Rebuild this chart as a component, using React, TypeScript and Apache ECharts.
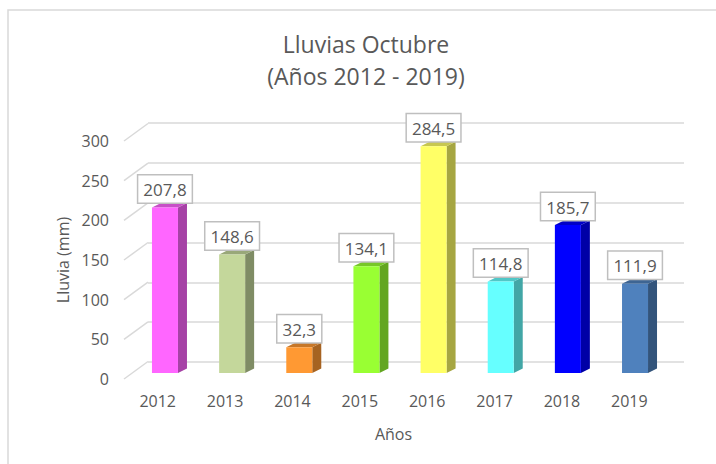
import React, { useEffect, useRef } from "react";
import * as echarts from "echarts";

const years = ["2012", "2013", "2014", "2015", "2016", "2017", "2018", "2019"];
const rainfall = [207.8, 148.6, 32.3, 134.1, 284.5, 114.8, 185.7, 111.9];
const frontColors = ["#FF66FF", "#C4D79B", "#FF9933", "#99FF33", "#FFFF66", "#66FFFF", "#0000FF", "#4F81BD"];
const yTicks = [0, 50, 100, 150, 200, 250, 300];

const FONT = "'Open Sans', sans-serif";
const TEXT = "#595959";
const GRID = "#d9d9d9";

function shade(hex: string, f: number): string {
  const n = parseInt(hex.slice(1), 16);
  const r = Math.round(((n >> 16) & 255) * f);
  const g = Math.round(((n >> 8) & 255) * f);
  const b = Math.round((n & 255) * f);
  return "rgb(" + r + "," + g + "," + b + ")";
}

export default function App() {
  const ref = useRef<HTMLDivElement>(null);
  useEffect(() => {
    if (!ref.current) return;
    const chart = echarts.init(ref.current, null, { renderer: "svg" });
    const BAR_W = 26;
    const DX = 9;
    const DY = -4.5;
    chart.setOption({
      animation: false,
      backgroundColor: "#ffffff",
      title: {
        text: "Lluvias Octubre\n(Años 2012 - 2019)",
        left: 366,
        top: 28,
        textAlign: "center",
        padding: 0,
        textStyle: { fontFamily: FONT, fontSize: 23, fontWeight: "normal", color: TEXT, lineHeight: 32 },
      },
      graphic: [
        {
          type: "rect",
          shape: { x: 8, y: 10, width: 720, height: 470 },
          style: { fill: "none", stroke: GRID, lineWidth: 1.5 },
          silent: true,
          z: -10,
        },
      ],
      grid: [
        // back wall
        { left: 148, right: 32, top: 123, bottom: 102 },
        // front axes
        { left: 124, right: 53, top: 141, bottom: 85 },
        // bars (mid depth)
        { left: 131.4, right: 47.4, top: 134, bottom: 91 },
      ],
      xAxis: [
        { gridIndex: 0, type: "category", data: years, show: false },
        {
          gridIndex: 1,
          type: "category",
          data: years,
          axisLine: { show: false },
          axisTick: { show: false },
          axisLabel: { color: TEXT, fontFamily: FONT, fontSize: 16, margin: 14 },
          name: "Años",
          nameLocation: "middle",
          nameGap: 47,
          nameTextStyle: { color: TEXT, fontFamily: FONT, fontSize: 16 },
        },
        { gridIndex: 2, type: "category", data: years, show: false },
      ],
      yAxis: [
        {
          gridIndex: 0,
          type: "value",
          min: 0,
          max: 300,
          interval: 50,
          axisLabel: { show: false },
          axisLine: { show: false },
          axisTick: { show: false },
          splitLine: { show: true, lineStyle: { color: GRID, width: 1.5 } },
        },
        {
          gridIndex: 1,
          type: "value",
          min: 0,
          max: 300,
          interval: 50,
          axisLine: { show: false },
          axisTick: { show: false },
          splitLine: { show: false },
          axisLabel: { color: TEXT, fontFamily: FONT, fontSize: 16, margin: 15 },
          name: "Lluvia (mm)",
          nameLocation: "middle",
          nameGap: 48,
          nameTextStyle: { color: TEXT, fontFamily: FONT, fontSize: 16 },
        },
        { gridIndex: 2, type: "value", min: 0, max: 300, show: false },
      ],
      series: [
        {
          type: "custom",
          xAxisIndex: 1,
          yAxisIndex: 1,
          silent: true,
          data: yTicks.map((v) => [0, v]),
          renderItem: (params: any, api: any) => {
            const cs = params.coordSys;
            const y = api.coord([0, api.value(1)])[1];
            return {
              type: "line",
              shape: { x1: cs.x, y1: y, x2: cs.x + 24, y2: y - 17.5 },
              style: { stroke: GRID, lineWidth: 1.5 },
            };
          },
        },
        {
          type: "custom",
          xAxisIndex: 2,
          yAxisIndex: 2,
          silent: true,
          data: rainfall.map((v, i) => [i, v]),
          renderItem: (params: any, api: any) => {
            const i = api.value(0);
            const v = api.value(1);
            const base = api.coord([i, 0]);
            const top = api.coord([i, v]);
            const cx = base[0];
            const l = cx - BAR_W / 2;
            const r = cx + BAR_W / 2;
            const c = frontColors[i];
            return {
              type: "group",
              children: [
                {
                  type: "polygon",
                  shape: { points: [[r, top[1]], [r + DX, top[1] + DY], [r + DX, base[1] + DY], [r, base[1]]] },
                  style: { fill: shade(c, 0.65) },
                },
                {
                  type: "polygon",
                  shape: { points: [[l, top[1]], [l + DX, top[1] + DY], [r + DX, top[1] + DY], [r, top[1]]] },
                  style: { fill: shade(c, 0.78) },
                },
              ],
            };
          },
        },
        {
          type: "bar",
          xAxisIndex: 2,
          yAxisIndex: 2,
          barWidth: BAR_W,
          data: rainfall.map((v, i) => ({ value: v, itemStyle: { color: frontColors[i] } })),
          label: {
            show: true,
            position: "top",
            distance: 5,
            formatter: (p: any) => p.value.toFixed(1).replace(".", ","),
            color: TEXT,
            fontFamily: FONT,
            fontSize: 17,
            lineHeight: 22,
            backgroundColor: "#ffffff",
            borderColor: "#bfbfbf",
            borderWidth: 1.5,
            padding: [3, 5, 2, 5],
          },
          z: 3,
        },
      ],
    });
    return () => chart.dispose();
  }, []);
  return (
    <div
      ref={ref}
      style={{ position: "fixed", left: 0, top: 0, width: 716, height: 464 }}
    />
  );
}
